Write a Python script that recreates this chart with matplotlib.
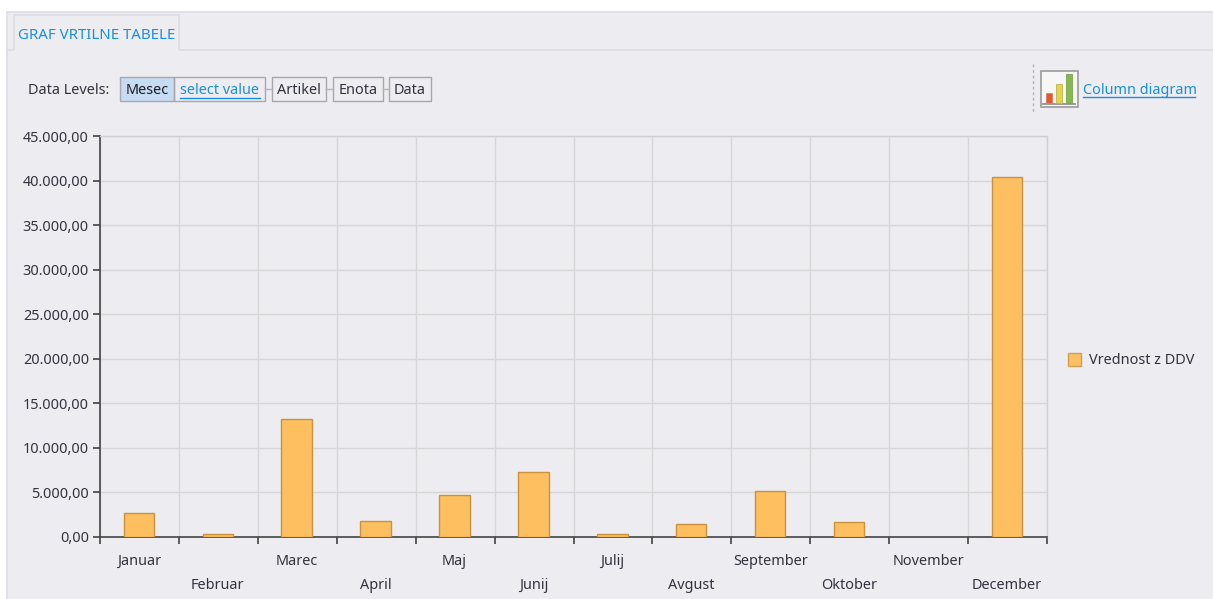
import matplotlib

matplotlib.use("Agg")
import matplotlib.pyplot as plt  # noqa: E402
from matplotlib.patches import Rectangle  # noqa: E402

months = ["Januar", "Februar", "Marec", "April", "Maj", "Junij", "Julij", "Avgust",
          "September", "Oktober", "November", "December"]
values = [2700, 300, 13200, 1800, 4700, 7300, 300, 1500, 5150, 1650, 0, 40450]
y_ticks = [0, 5000, 10000, 15000, 20000, 25000, 30000, 35000, 40000, 45000]
series_name = "Vrednost z DDV"
level_buttons = ["Artikel", "Enota", "Data"]

W, H = 1213, 599
BG = "#edecf1"
LINK = "#1a8fe0"
TEXT = "#333340"
FONT = "Noto Sans"
FS = 10.4
ROW_Y = 90.3

plt.rcParams["font.family"] = [FONT, "DejaVu Sans"]


def fmt(v):
    return f"{v:,.2f}".replace(",", "X").replace(".", ",").replace("X", ".")


def box(ax, x0, y0, x1, y1, fc="none", ec="#a8a8ac", lw=1.0, z=2):
    ax.add_patch(Rectangle((x0, y0), x1 - x0, y1 - y0, fc=fc, ec=ec, lw=lw, zorder=z))


fig = plt.figure(figsize=(W / 100, H / 100), dpi=100, facecolor="white")

# page chrome, drawn in pixel coordinates
bg = fig.add_axes([0, 0, 1, 1])
bg.set_xlim(0, W)
bg.set_ylim(H, 0)
bg.axis("off")
box(bg, 6.5, 12, W + 5, H + 5, fc=BG, ec="#dcdce4", lw=1.2, z=1)
bg.plot([6.5, 14, 14, 179, 179, W], [50, 50, 15, 15, 50, 50], color="#dcdce2", lw=1.2, zorder=2)
bg.text(18, 35.5, "GRAF VRTILNE TABELE", color=LINK, fontsize=10.8, va="center", ha="left")

bg.text(28, ROW_Y, "Data Levels:", color=TEXT, fontsize=FS, va="center", ha="left")
box(bg, 120, 76.5, 174, 101, fc="#c6dcf3")
box(bg, 174, 76.5, 265, 101)
bg.text(147, ROW_Y, "Mesec", color="#1c1c24", fontsize=FS, va="center", ha="center")
bg.text(220, ROW_Y, "select value", color=LINK, fontsize=FS, va="center", ha="center")
bg.plot([180, 260], [97.5, 97.5], color=LINK, lw=1)
spans = [(272, 326), (333, 383), (389, 431)]
for name, (x0, x1) in zip(level_buttons, spans):
    box(bg, x0, 76.5, x1, 101)
    bg.text((x0 + x1) / 2, ROW_Y, name, color=TEXT, fontsize=FS, va="center", ha="center")
for x0, x1 in [(265, 272), (326, 333), (383, 389)]:
    bg.plot([x0, x1], [89, 89], color="#b4b4b8", lw=1)

# column diagram button
bg.plot([1033, 1033], [64, 112], color="#b4b4b8", lw=1, ls=(0, (2, 2)))
box(bg, 1041, 71, 1077.5, 106.5, fc="#f6f6f6", ec="#9a9a9a", lw=1.2)
bg.plot([1043, 1075], [104, 104], color="#9a9a9a", lw=1.4, zorder=3)
box(bg, 1046, 93, 1052, 103, fc="#e8552f", ec="#d9825a", lw=0.6, z=3)
box(bg, 1056, 84, 1062, 103, fc="#e4d44a", ec="#c0b450", lw=0.6, z=3)
box(bg, 1065.5, 74, 1071.5, 103, fc="#85b84e", ec="#7aa34a", lw=0.6, z=3)
bg.text(1083, ROW_Y, "Column diagram", color=LINK, fontsize=FS, va="center", ha="left")
bg.plot([1083, 1195], [96.5, 96.5], color=LINK, lw=1)

# legend
box(bg, 1068, 353, 1081, 366, fc="#fdbf5f", ec="#cf9f58", lw=1)
bg.text(1089, 360.5, series_name, color=TEXT, fontsize=FS, va="center", ha="left")

# chart
left, right, top, bottom = 100, 1047, 136, 537
ax = fig.add_axes([left / W, 1 - bottom / H, (right - left) / W, (bottom - top) / H])
ax.patch.set_alpha(0)
positions = list(range(len(months)))
bar_nudge = -0.008
ax.bar([p + bar_nudge for p in positions], values, width=0.385, color="#fdbf5f",
       edgecolor="#c8923f", linewidth=[1 if v else 0 for v in values], zorder=3)
ax.set_xlim(-0.5, len(months) - 0.5)
ax.set_ylim(0, 45000)

ax.set_yticks(y_ticks)
ax.set_yticklabels([fmt(v) for v in y_ticks], fontsize=FS, color=TEXT)
ax.set_xticks([p - 0.5 for p in positions] + [len(months) - 0.5])
ax.set_xticklabels([])
ax.set_xticks([p - 0.008 for p in positions], minor=True)
ax.set_xticklabels(months, minor=True, fontsize=FS, color=TEXT)
ax.tick_params(axis="x", which="minor", length=0)
for i, tick in enumerate(ax.xaxis.get_minor_ticks()):
    tick.set_pad(12.3 if i % 2 == 0 else 29.8)
ax.tick_params(axis="x", which="major", length=5, width=1.1, color="#333333")
ax.tick_params(axis="y", which="major", length=5, width=1.1, color="#333333", pad=3)
ax.grid(True, which="major", color="#d6d6d6", lw=1.0, zorder=0)
ax.set_axisbelow(True)
for side in ("top", "right"):
    ax.spines[side].set_color("#d0d0d0")
    ax.spines[side].set_linewidth(1.0)
for side in ("left", "bottom"):
    ax.spines[side].set_color("#444444")
    ax.spines[side].set_linewidth(1.2)

fig.savefig("out.png", dpi=100, facecolor=fig.get_facecolor())
